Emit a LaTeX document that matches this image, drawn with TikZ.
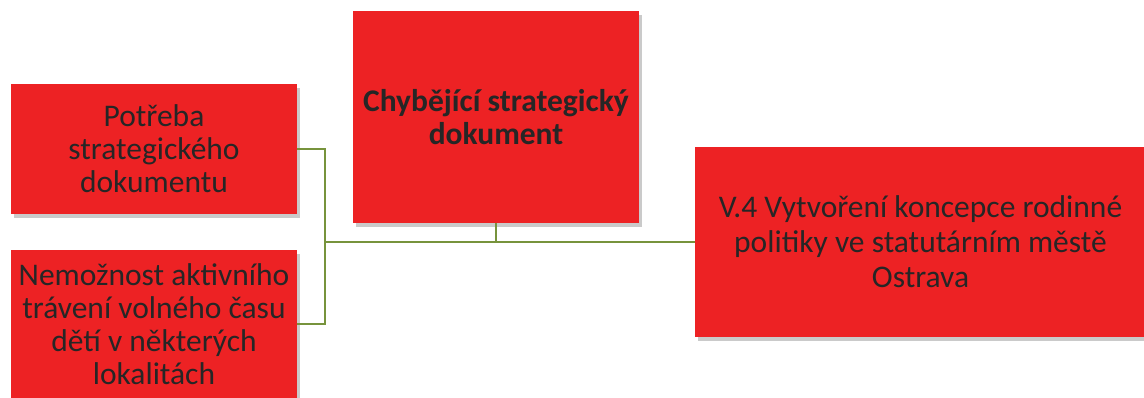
\documentclass[tikz,border=0pt]{standalone}
\usepackage{fontspec}
\setmainfont{Carlito}
\usetikzlibrary{shadows}
\definecolor{boxred}{HTML}{ED2224}
\definecolor{linkgreen}{HTML}{77933C}
\definecolor{inkgray}{HTML}{262626}
\tikzset{
  causebox/.style={fill=boxred, text=inkgray, align=center, inner sep=0pt,
    drop shadow={shadow xshift=2.5pt, shadow yshift=-3.5pt, opacity=0.35, fill=black!60}},
  link/.style={draw=linkgreen, line width=2pt}
}
\begin{document}
\begin{tikzpicture}[x=1pt,y=-1pt]
  \useasboundingbox (0,0) rectangle (1144,397);
  \begin{scope}
  \clip (0,0) rectangle (1144,397);
  % causes on the left
  \node [causebox, minimum width=286pt, minimum height=130pt, font=\fontsize{31.5}{33}\selectfont]
    (potreba) at (154,149) {Potřeba\\strategického\\dokumentu};
  \node [causebox, minimum width=286pt, minimum height=148pt, font=\fontsize{31.5}{33}\selectfont]
    (moznost) at (154,324) {Nemožnost aktivního\\trávení volného času\\dětí v některých\\lokalitách};
  % problem in the middle
  \node [causebox, minimum width=286pt, minimum height=212pt, font=\fontsize{31.5}{33}\selectfont\bfseries]
    (chybi) at (496,117) {Chybějící strategický\\dokument};
  % measure on the right
  \node [causebox, minimum width=451pt, minimum height=190pt, font=\fontsize{31.5}{35}\selectfont]
    (opatreni) at (920.5,242) {V.4 Vytvoření koncepce rodinné\\politiky ve statutárním městě\\Ostrava};
  \end{scope}
  \coordinate (uzel) at (325,242);
  \draw [link] (potreba.east) -| (uzel);
  \draw [link] (moznost.east) -| (uzel);
  \draw [link] (uzel) -- (opatreni.west);
  \draw [link] (chybi.south) -- (chybi.south |- uzel);
\end{tikzpicture}
\end{document}
